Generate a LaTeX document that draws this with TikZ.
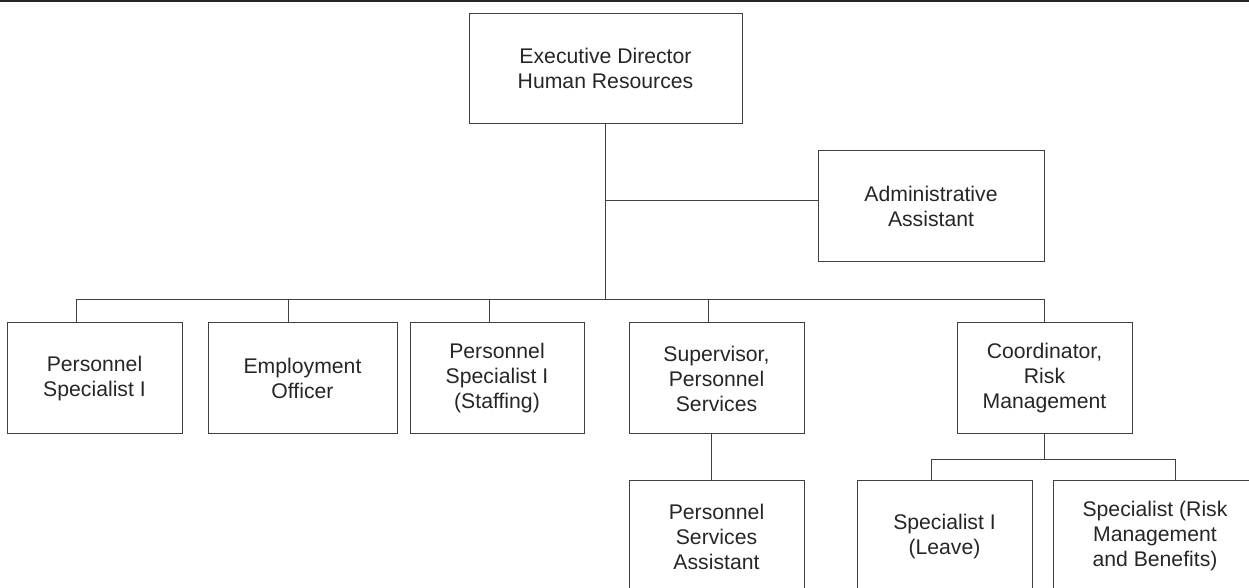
\documentclass[tikz,border=0pt]{standalone}
\usepackage{fontspec}
\setmainfont{Liberation Sans}
\usepackage{tikz}
\usetikzlibrary{calc}
\tikzset{%
  post/.style={draw=black!75, line width=0.5pt, align=center, inner sep=0pt,
    minimum width=87.5pt, minimum height=55.5pt, text=black!85,
    font=\fontsize{10.6pt}{12.5pt}\selectfont},
  link/.style={draw=black!75, line width=0.5pt}
}

\begin{document}
\begin{tikzpicture}[x=0.5pt,y=-0.5pt]
\useasboundingbox (0,0) rectangle (1249,588);
\clip (0,0) rectangle (1249,588);

\draw[black!85, line width=1pt] (0,1) -- (1249,1);

% top
\node[post, minimum width=136.5pt, minimum height=55pt] at (605.5,68.5) (exec) {Executive Director\\ Human Resources};
\node[post, minimum width=113pt] at (931,206.5) (admin) {Administrative\\ Assistant};

% second row
\node[post] at (94.5,378.5) (persI) {Personnel\\ Specialist I};
\node[post, minimum width=94.5pt] at (302.5,378.5) (employ) {Employment\\ Officer};
\node[post, minimum width=87pt] at (497,378.5) (persStaff) {Personnel\\ Specialist I\\ (Staffing)};
\node[post] at (716.5,378.5) (superv) {Supervisor,\\ Personnel\\ Services};
\node[post] at (1044.5,378.5) (coordRisk) {Coordinator,\\ Risk\\ Management};

% third row
\node[post] at (716.5,536.5) (persAsst) {Personnel\\ Services\\ Assistant};
\node[post] at (944.5,536.5) (specLeave) {Specialist I\\ (Leave)};
\node[post, minimum width=102pt] at (1155,536.5) (specRisk) {Specialist (Risk\\ Management\\ and Benefits)};

\coordinate (bus) at (0,300);
\coordinate (subbus) at (0,460);

\draw[link] (exec.south) -- (exec.south |- bus);
\draw[link] ([yshift=2.75pt]admin.west) -- ([yshift=2.75pt]admin.west -| exec.south);
\draw[link] ([xshift=-9.25pt]persI.north) |- (coordRisk.north |- bus) -- (coordRisk.north);
\draw[link] ([xshift=-7.25pt]employ.north) -- ([xshift=-7.25pt]employ.north |- bus);
\draw[link] ([xshift=-4pt]persStaff.north) -- ([xshift=-4pt]persStaff.north |- bus);
\draw[link] ([xshift=-4.25pt]superv.north) -- ([xshift=-4.25pt]superv.north |- bus);

\draw[link] ([xshift=-2.75pt]superv.south) -- ([xshift=-2.75pt]persAsst.north);
\draw[link] (coordRisk.south) -- (coordRisk.south |- subbus);
\draw[link] ([xshift=-6.75pt]specLeave.north) |- ([xshift=10pt]specRisk.north |- subbus) -- ([xshift=10pt]specRisk.north);
\end{tikzpicture}
\end{document}
